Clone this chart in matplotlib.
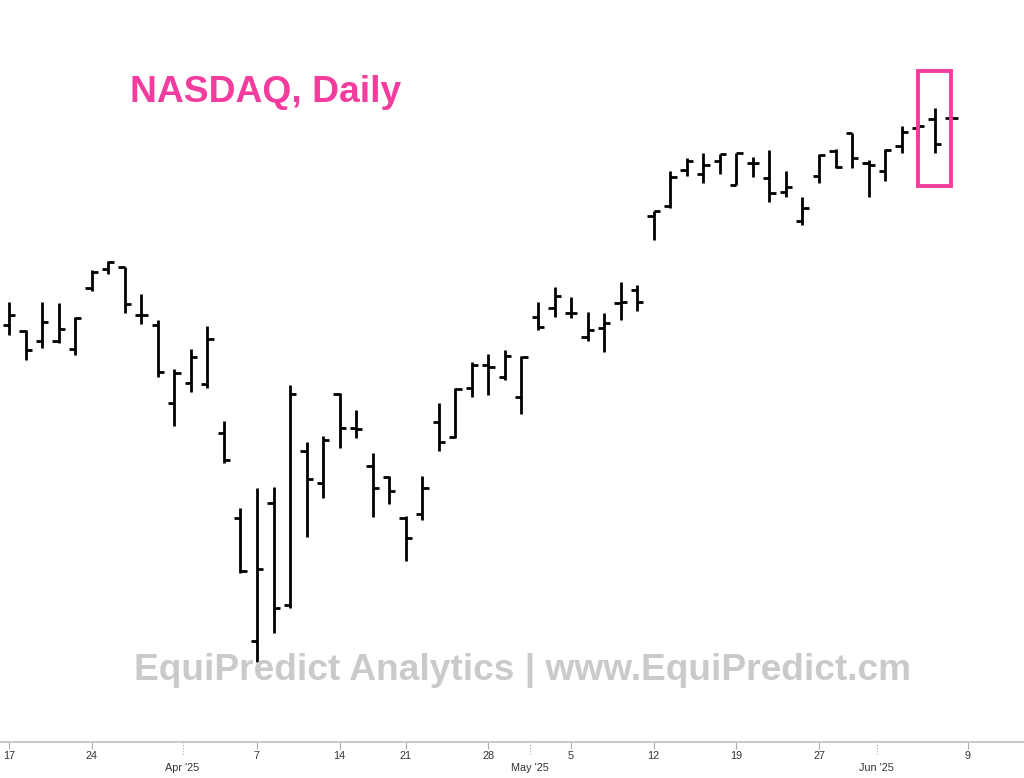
#!/usr/bin/env python
""" NASDAQ daily OHLC bars with highlight box """

import matplotlib.pyplot as plt
import matplotlib.transforms as mtransforms
import pandas as pd
from matplotlib.patches import Rectangle

# trading days shown on the axis (Jun 9 is an empty slot at the right edge)
axis_days = pd.bdate_range("2025-03-17", "2025-06-09")
axis_days = axis_days[~axis_days.isin(pd.to_datetime(["2025-04-18", "2025-05-26"]))]

# OHLC
opens = [17975, 17921, 17831, 17831, 17759, 18308, 18479, 18497, 18065, 17975,
         17273, 17453, 17444, 17003, 16238, 15131, 16373, 15455, 16841, 16553,
         17354, 17048, 16706, 16607, 16238, 16274, 17102, 16967, 17408, 17615,
         17507, 17327, 18047, 18128, 18083, 17867, 17948, 18173, 18290, 18956,
         19046, 19370, 19334, 19451, 19235, 19433, 19298, 19172, 18911, 19316,
         19541, 19703, 19433, 19361, 19586, 19748, 19829, 19838]
highs = [18182, 17930, 18182, 18173, 18047, 18470, 18551, 18497, 18254, 18020,
         17579, 17759, 17966, 17111, 16328, 16508, 16517, 17435, 16922, 16976,
         17363, 17210, 16823, 16616, 16256, 16616, 17273, 17408, 17642, 17714,
         17750, 17696, 18182, 18317, 18227, 18092, 18083, 18362, 18335, 19001,
         19361, 19478, 19523, 19514, 19523, 19487, 19550, 19361, 19127, 19514,
         19559, 19703, 19460, 19559, 19766, 19802, 19928, 19856]
lows = [17885, 17660, 17768, 17813, 17705, 18281, 18434, 18083, 17984, 17507,
        17066, 17372, 17408, 16733, 15743, 14942, 15203, 15428, 16067, 16418,
        16868, 16958, 16247, 16364, 15851, 16220, 16841, 16958, 17327, 17345,
        17480, 17174, 17930, 18047, 18038, 17831, 17732, 18020, 18101, 18740,
        19028, 19316, 19253, 19334, 19235, 19307, 19082, 19127, 18875, 19253,
        19388, 19388, 19127, 19271, 19523, 19658, 19523, 19820]
closes = [18065, 17750, 18002, 17939, 18038, 18452, 18542, 18164, 18065, 17552,
          17543, 17687, 17849, 16760, 15761, 15779, 15428, 17354, 16589, 16940,
          17048, 17039, 16508, 16481, 16058, 16508, 16922, 17399, 17615, 17597,
          17696, 17687, 17957, 18236, 18083, 17930, 17993, 18182, 18182, 19001,
          19307, 19451, 19415, 19514, 19523, 19433, 19163, 19217, 19028, 19505,
          19397, 19478, 19415, 19550, 19712, 19766, 19604, 19838]

week_ticks = ["2025-03-17", "2025-03-24", "2025-04-07", "2025-04-14", "2025-04-21",
              "2025-04-28", "2025-05-05", "2025-05-12", "2025-05-19", "2025-05-27",
              "2025-06-09"]
month_labels = ["Apr '25", "May '25", "Jun '25"]

title = "NASDAQ, Daily"
watermark = "EquiPredict Analytics | www.EquiPredict.cm"
highlight_from = 55  # first bar inside the pink box

PINK = "#f23d9e"


def main():
    """ Main function """
    fig = plt.figure(figsize=(10.24, 7.78), dpi=100)
    ax = fig.add_axes([0, 36 / 778, 1, 742 / 778])

    x = list(range(len(opens)))
    tick = 0.38
    ax.vlines(x, lows, highs, color="black", lw=2.0)
    ax.hlines(opens, [i - tick for i in x], x, color="black", lw=2.0)
    ax.hlines(closes, x, [i + tick for i in x], color="black", lw=2.0)

    # highlight box round the last bars
    box_lo = min(lows[highlight_from:]) - 300
    box_hi = max(highs[highlight_from:]) + 330
    ax.add_patch(Rectangle((highlight_from, box_lo), len(opens) - 1 - highlight_from,
                           box_hi - box_lo, fill=False, edgecolor=PINK, lw=2.8,
                           zorder=5))

    ax.set_xlim(-0.545, 61.4)
    ax.set_ylim(14222, 20900)

    for side in ["top", "left", "right"]:
        ax.spines[side].set_visible(False)
    ax.spines["bottom"].set_color("#c4c4c4")
    ax.spines["bottom"].set_linewidth(1.3)
    ax.set_yticks([])

    pos = {d: i for i, d in enumerate(axis_days)}
    wk = [pos[pd.Timestamp(d)] for d in week_ticks]
    ax.set_xticks(wk, [str(pd.Timestamp(d).day) for d in week_ticks])

    # month boundaries sit half way between the two trading days
    months = axis_days.month
    mpos = [i - 0.5 for i in range(1, len(axis_days)) if months[i] != months[i - 1]]
    ax.set_xticks(mpos, month_labels, minor=True)

    narrow = ["Liberation Sans Narrow", "Liberation Sans", "DejaVu Sans"]
    ax.tick_params(axis="x", which="major", length=5, width=0.8, color="#aaaaaa",
                   pad=1.5, labelsize=7.8, labelcolor="#333333")
    ax.tick_params(axis="x", which="minor", length=0, pad=15, labelsize=7.8,
                   labelcolor="#333333")
    for lab in ax.get_xticklabels(which="both"):
        lab.set_family(narrow)

    trans = mtransforms.blended_transform_factory(ax.transData, ax.transAxes)
    ax.vlines(mpos, -0.016, 0, transform=trans, color="#aaaaaa", lw=0.8,
              linestyles=(0, (1, 1.5)), clip_on=False)

    fig.text(130 / 1024, 1 - 93 / 778, title, color=PINK, fontsize=26.8,
             fontweight="bold", family=["Liberation Sans", "DejaVu Sans"],
             ha="left", va="center")
    fig.text(522 / 1024, 1 - 671 / 778, watermark, color="#cacaca", fontsize=26.7,
             fontweight="bold", family=["Liberation Sans", "DejaVu Sans"],
             ha="center", va="center")

    fig.savefig("out.png", dpi=100, facecolor="white")


if __name__ == "__main__":
    main()
